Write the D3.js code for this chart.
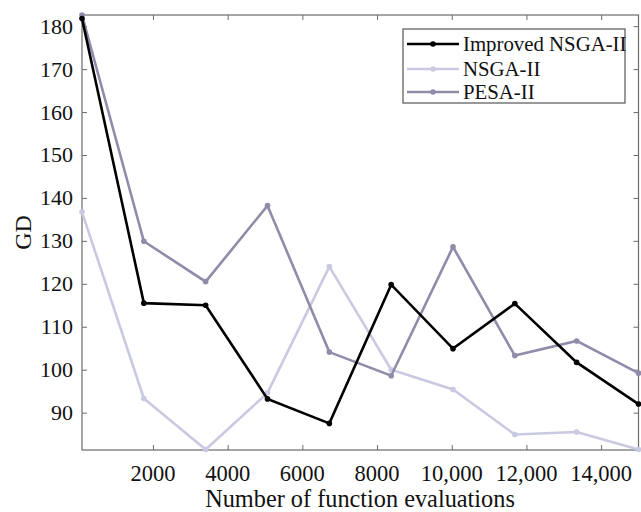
<!DOCTYPE html>
<html>
<head>
<meta charset="utf-8">
<script src="https://cdn.jsdelivr.net/npm/d3@7"></script>
<style>
  html, body { margin: 0; padding: 0; background: #fff; }
  svg { display: block; }
  text { font-family: "Liberation Serif", "Times New Roman", serif; fill: #111; }
</style>
</head>
<body>
<svg id="chart" width="641" height="512"></svg>
<script>
// ---- data ----
const evaluations = [100, 1756, 3411, 5067, 6722, 8378, 10033, 11689, 13344, 15000];
const improvedNSGA2 = [181.8, 115.5, 115.0, 93.2, 87.5, 119.8, 104.9, 115.4, 101.7, 92.0];
const nsga2 = [136.7, 93.3, 81.4, 94.6, 124.0, 100.0, 95.4, 84.9, 85.5, 81.4];
const pesa2 = [182.6, 129.9, 120.5, 138.2, 104.1, 98.6, 128.6, 103.3, 106.7, 99.2];
const seriesNames = ["Improved NSGA-II", "NSGA-II", "PESA-II"];
const seriesColors = ["#000000", "#c9c9e1", "#8f8ca9"];
const xTicks = [2000, 4000, 6000, 8000, 10000, 12000, 14000];
const xTickLabels = ["2000", "4000", "6000", "8000", "10,000", "12,000", "14,000"];
const yTicks = [90, 100, 110, 120, 130, 140, 150, 160, 170, 180];
const xLabel = "Number of function evaluations";
const yLabel = "GD";

(function () {
// ---- layout ----
const pl = 82, pr = 638.5, pt = 15, pb = 450;
const svg = d3.select("#chart");

const x = d3.scaleLinear().domain([100, 15000]).range([pl, pr]);
const y = d3.scaleLinear().domain([81.3, 182.6]).range([pb, pt]);

const axisColor = "#6b6b6b";
const tickLen = 5;

svg.append("rect")
  .attr("x", pl).attr("y", pt)
  .attr("width", pr - pl).attr("height", pb - pt)
  .attr("fill", "none").attr("stroke", axisColor).attr("stroke-width", 1.2);

const xAxisB = d3.axisBottom(x).tickValues(xTicks).tickSize(-tickLen).tickFormat("");
const xAxisT = d3.axisTop(x).tickValues(xTicks).tickSize(-tickLen).tickFormat("");
const yAxisL = d3.axisLeft(y).tickValues(yTicks).tickSize(-tickLen).tickFormat("");
const yAxisR = d3.axisRight(y).tickValues(yTicks).tickSize(-tickLen).tickFormat("");

function styleAxis(g) {
  g.select(".domain").remove();
  g.selectAll(".tick line").attr("stroke", axisColor).attr("stroke-width", 1);
}
svg.append("g").attr("transform", `translate(0,${pb})`).call(xAxisB).call(styleAxis);
svg.append("g").attr("transform", `translate(0,${pt})`).call(xAxisT).call(styleAxis);
svg.append("g").attr("transform", `translate(${pl},0)`).call(yAxisL).call(styleAxis);
svg.append("g").attr("transform", `translate(${pr},0)`).call(yAxisR).call(styleAxis);

svg.append("g").selectAll("text").data(xTicks).join("text")
  .attr("x", d => x(d)).attr("y", 481)
  .attr("text-anchor", "middle")
  .attr("font-size", 22.5)
  .text((d, i) => xTickLabels[i]);

svg.append("g").selectAll("text").data(yTicks).join("text")
  .attr("x", 73).attr("y", d => y(d) + 7.5)
  .attr("text-anchor", "end")
  .attr("font-size", 22)
  .text(d => d);

svg.append("text")
  .attr("x", 360).attr("y", 507)
  .attr("text-anchor", "middle")
  .attr("font-size", 24.3)
  .text(xLabel);

svg.append("text")
  .attr("transform", `translate(31,${(pt + pb) / 2}) rotate(-90)`)
  .attr("text-anchor", "middle")
  .attr("font-size", 24)
  .text(yLabel);

const allSeries = [improvedNSGA2, nsga2, pesa2];
const line = d3.line().x((d, i) => x(evaluations[i])).y(d => y(d));

const plot = svg.append("g");
[1, 2, 0].forEach(si => {
  const vals = allSeries[si];
  plot.append("path")
    .datum(vals)
    .attr("d", line)
    .attr("fill", "none")
    .attr("stroke", seriesColors[si])
    .attr("stroke-width", 2.6)
    .attr("stroke-linejoin", "miter");
  plot.append("g").selectAll("circle").data(vals).join("circle")
    .attr("cx", (d, i) => x(evaluations[i]))
    .attr("cy", d => y(d))
    .attr("r", 2.8)
    .attr("fill", seriesColors[si]);
});

const lg = svg.append("g");
lg.append("rect")
  .attr("x", 403).attr("y", 29)
  .attr("width", 222).attr("height", 74)
  .attr("fill", "#fff").attr("stroke", "#555").attr("stroke-width", 1.2);
const rowY = [44, 69, 92];
seriesNames.forEach((name, i) => {
  lg.append("line")
    .attr("x1", 407).attr("x2", 459)
    .attr("y1", rowY[i]).attr("y2", rowY[i])
    .attr("stroke", seriesColors[i]).attr("stroke-width", 2.6);
  lg.append("circle")
    .attr("cx", 433).attr("cy", rowY[i]).attr("r", 2.8)
    .attr("fill", seriesColors[i]);
  lg.append("text")
    .attr("x", 463).attr("y", rowY[i] + 7)
    .attr("font-size", 20.8)
    .text(name);
});
})();
</script>
</body>
</html>
